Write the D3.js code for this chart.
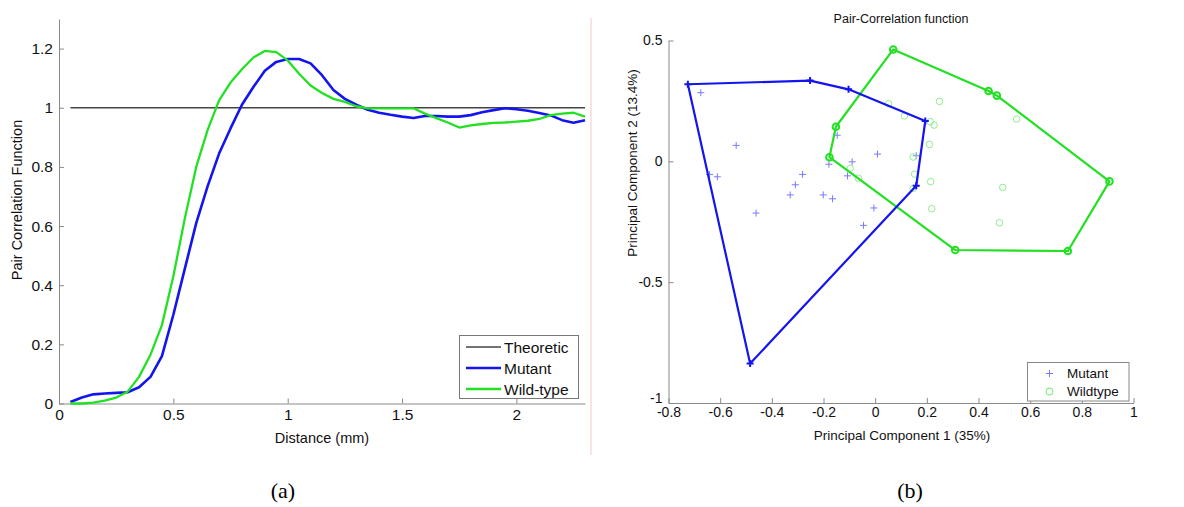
<!DOCTYPE html>
<html>
<head>
<meta charset="utf-8">
<script src="https://cdn.jsdelivr.net/npm/d3@7"></script>
<style>
  html, body { margin: 0; padding: 0; background: #fff; }
  svg { display: block; font-family: "Liberation Sans", Arial, sans-serif; }
</style>
</head>
<body>
<svg id="chart" width="1184" height="507"></svg>
<script>
// ---------- Panel (a) data ----------
const distance = [0.05,0.10,0.15,0.20,0.25,0.30,0.35,0.40,0.45,0.50,0.55,0.60,0.65,0.70,0.75,0.80,0.85,0.90,0.95,1.00,
  1.05,1.10,1.15,1.20,1.25,1.30,1.35,1.40,1.45,1.50,1.55,1.60,1.65,1.70,1.75,1.80,1.85,1.90,1.95,2.00,
  2.05,2.10,2.15,2.20,2.25,2.30];
const mutant = [0.005,0.020,0.031,0.034,0.036,0.038,0.055,0.090,0.160,0.300,0.455,0.610,0.735,0.845,0.930,1.010,1.070,1.125,1.155,1.165,
  1.165,1.150,1.110,1.060,1.030,1.010,0.993,0.983,0.976,0.970,0.965,0.972,0.972,0.970,0.970,0.975,0.985,0.992,0.998,0.995,
  0.990,0.982,0.974,0.958,0.949,0.958];
const wildType = [0.000,0.000,0.003,0.010,0.020,0.040,0.090,0.165,0.265,0.430,0.625,0.800,0.925,1.025,1.085,1.130,1.170,1.192,1.188,1.160,
  1.115,1.075,1.050,1.030,1.020,1.005,0.998,0.998,0.998,0.998,0.998,0.980,0.965,0.950,0.933,0.940,0.945,0.949,0.950,0.953,
  0.956,0.962,0.975,0.980,0.983,0.970];
const theoreticX = [0.05, 2.30];
const theoreticY = [1, 1];
const aXTicks = [0, 0.5, 1, 1.5, 2];
const aXTickLabels = ["0", "0.5", "1", "1.5", "2"];
const aYTicks = [0, 0.2, 0.4, 0.6, 0.8, 1, 1.2];
const aYTickLabels = ["0", "0.2", "0.4", "0.6", "0.8", "1", "1.2"];
const aLegend = ["Theoretic", "Mutant", "Wild-type"];

// ---------- Panel (b) data ----------
const mutantHull = [[-0.725,0.319],[-0.252,0.334],[-0.103,0.298],[0.194,0.167],[0.159,-0.101],[-0.484,-0.837]];
const mutantPoints = [[-0.675,0.284],[-0.538,0.066],[-0.641,-0.054],[-0.611,-0.064],[-0.281,-0.054],[-0.309,-0.097],
  [-0.329,-0.139],[-0.461,-0.214],[-0.201,-0.139],[-0.165,-0.155],[-0.147,0.108],[-0.179,-0.012],[-0.089,-0.002],
  [-0.107,-0.060],[0.009,0.030],[-0.005,-0.193],[-0.045,-0.265],[0.159,0.023]];
const wildHull = [[0.070,0.463],[0.439,0.291],[0.471,0.272],[0.907,-0.083],[0.746,-0.371],[0.310,-0.367],[-0.177,0.017],[-0.152,0.143]];
const wildPoints = [[0.052,0.238],[0.113,0.188],[0.249,0.248],[0.213,0.164],[0.228,0.150],[0.210,0.070],[0.147,0.018],
  [0.153,-0.053],[0.215,-0.084],[0.147,-0.112],[0.219,-0.196],[0.548,0.175],[0.494,-0.108],[0.481,-0.254],
  [-0.097,-0.029],[-0.065,-0.070]];
const bXTicks = [-0.8,-0.6,-0.4,-0.2,0,0.2,0.4,0.6,0.8,1];
const bXTickLabels = ["-0.8","-0.6","-0.4","-0.2","0","0.2","0.4","0.6","0.8","1"];
const bYTicks = [-1,-0.5,0,0.5];
const bYTickLabels = ["-1","-0.5","0","0.5"];
const bLegend = ["Mutant", "Wildtype"];

// ---------- Colours ----------
const BLUE = "#1414f0", GREEN = "#22e022", GRAY_AXIS = "#8a8a8a";
const BLUE_LIGHT = "#7a7aff", GREEN_LIGHT = "#90ee90";

const svg = d3.select("#chart");

function styleAxis(g, fontSize) {
  g.select(".domain").attr("stroke", GRAY_AXIS).attr("stroke-width", 1);
  g.selectAll(".tick line").attr("stroke", GRAY_AXIS);
  g.selectAll(".tick text").attr("fill", "#111").attr("font-size", fontSize)
    .attr("font-family", "'Liberation Sans', Arial, sans-serif");
}

// ================= Panel (a) =================
const ax = d3.scaleLinear().domain([0, 2.3]).range([59, 585]);
const ay = d3.scaleLinear().domain([0, 1.3]).range([403.5, 19]);

// faint pink border line
svg.append("line").attr("x1", 591).attr("x2", 591).attr("y1", 18).attr("y2", 455)
  .attr("stroke", "#f6c8c8").attr("stroke-width", 1);

svg.append("g").attr("transform", "translate(0,403.5)")
  .call(d3.axisBottom(ax).tickValues(aXTicks).tickFormat((d, i) => aXTickLabels[i]).tickSizeInner(-5).tickSizeOuter(0).tickPadding(5))
  .call(g => styleAxis(g, 15.5));
svg.append("g").attr("transform", "translate(59,0)")
  .call(d3.axisLeft(ay).tickValues(aYTicks).tickFormat((d, i) => aYTickLabels[i]).tickSizeInner(-5).tickSizeOuter(0).tickPadding(6))
  .call(g => styleAxis(g, 15.5));

const aLine = d3.line().x(d => ax(d[0])).y(d => ay(d[1]));
svg.append("path").datum(theoreticX.map((x, i) => [x, theoreticY[i]]))
  .attr("d", aLine).attr("fill", "none").attr("stroke", "#444").attr("stroke-width", 1.6);
svg.append("path").datum(distance.map((x, i) => [x, mutant[i]]))
  .attr("d", aLine).attr("fill", "none").attr("stroke", BLUE).attr("stroke-width", 2.6).attr("stroke-linejoin", "round");
svg.append("path").datum(distance.map((x, i) => [x, wildType[i]]))
  .attr("d", aLine).attr("fill", "none").attr("stroke", GREEN).attr("stroke-width", 2.3).attr("stroke-linejoin", "round");

svg.append("text").attr("x", 322).attr("y", 443).attr("text-anchor", "middle")
  .attr("font-size", 14.5).attr("fill", "#111").text("Distance (mm)");
svg.append("text").attr("transform", "translate(22,200) rotate(-90)").attr("text-anchor", "middle")
  .attr("font-size", 14.5).attr("fill", "#111").text("Pair Correlation Function");

// legend (a)
const aLeg = svg.append("g");
aLeg.append("rect").attr("x", 459.5).attr("y", 335.5).attr("width", 119).attr("height", 63)
  .attr("fill", "#fff").attr("stroke", "#777").attr("stroke-width", 1);
const aLegColors = ["#444", BLUE, GREEN];
const aLegWidths = [1.6, 2.6, 2.3];
aLegend.forEach((name, i) => {
  const yy = 347 + i * 21;
  aLeg.append("line").attr("x1", 466).attr("x2", 501).attr("y1", yy).attr("y2", yy)
    .attr("stroke", aLegColors[i]).attr("stroke-width", aLegWidths[i]);
  aLeg.append("text").attr("x", 504).attr("y", yy + 5.5).attr("font-size", 15.5).attr("fill", "#111").text(name);
});

// ================= Panel (b) =================
const bx = d3.scaleLinear().domain([-0.8, 1]).range([668.5, 1133.5]);
const by = d3.scaleLinear().domain([-1, 0.5]).range([403, 40.5]);

svg.append("g").attr("transform", "translate(0,403)")
  .call(d3.axisBottom(bx).tickValues(bXTicks).tickFormat((d, i) => bXTickLabels[i]).tickSizeInner(-5).tickSizeOuter(0).tickPadding(4))
  .call(g => styleAxis(g, 14));
svg.append("g").attr("transform", "translate(668.5,0)")
  .call(d3.axisLeft(by).tickValues(bYTicks).tickFormat((d, i) => bYTickLabels[i]).tickSizeInner(-5).tickSizeOuter(0).tickPadding(6))
  .call(g => styleAxis(g, 14))
  .call(g => g.selectAll(".tick text").filter((d, i) => i === 0).attr("dy", "-0.05em"));

svg.append("text").attr("x", 901).attr("y", 23).attr("text-anchor", "middle")
  .attr("font-size", 12.5).attr("fill", "#111").text("Pair-Correlation function");
svg.append("text").attr("x", 902).attr("y", 440).attr("text-anchor", "middle")
  .attr("font-size", 13.5).attr("fill", "#111").text("Principal Component 1 (35%)");
svg.append("text").attr("transform", "translate(637,163) rotate(-90)").attr("text-anchor", "middle")
  .attr("font-size", 13.5).attr("fill", "#111").text("Principal Component 2 (13.4%)");

// inner scatter points
function plus(g, x, y, s, color, w) {
  g.append("path").attr("d", `M${x - s},${y}H${x + s}M${x},${y - s}V${y + s}`)
    .attr("stroke", color).attr("stroke-width", w).attr("fill", "none");
}
const pts = svg.append("g");
mutantPoints.forEach(p => plus(pts, bx(p[0]), by(p[1]), 3.5, BLUE_LIGHT, 1));
wildPoints.forEach(p => pts.append("circle").attr("cx", bx(p[0])).attr("cy", by(p[1])).attr("r", 3.3)
  .attr("fill", "none").attr("stroke", GREEN_LIGHT).attr("stroke-width", 1));

// hulls
const hullLine = d3.line().x(d => bx(d[0])).y(d => by(d[1])).curve(d3.curveLinearClosed);
svg.append("path").datum(wildHull).attr("d", hullLine).attr("fill", "none")
  .attr("stroke", GREEN).attr("stroke-width", 2.2).attr("stroke-linejoin", "round");
svg.append("path").datum(mutantHull).attr("d", hullLine).attr("fill", "none")
  .attr("stroke", BLUE).attr("stroke-width", 2.2).attr("stroke-linejoin", "round");
wildHull.forEach(p => svg.append("circle").attr("cx", bx(p[0])).attr("cy", by(p[1])).attr("r", 3.3)
  .attr("fill", "none").attr("stroke", GREEN).attr("stroke-width", 2));
mutantHull.forEach(p => plus(svg, bx(p[0]), by(p[1]), 3.5, BLUE, 2));

// legend (b)
const bLeg = svg.append("g");
bLeg.append("rect").attr("x", 1027.5).attr("y", 362.5).attr("width", 101.5).attr("height", 38.5)
  .attr("fill", "#fff").attr("stroke", "#888").attr("stroke-width", 1);
plus(bLeg, 1049.5, 373.5, 3.5, BLUE_LIGHT, 1);
bLeg.append("circle").attr("cx", 1049.5).attr("cy", 391.5).attr("r", 3.3).attr("fill", "none")
  .attr("stroke", GREEN_LIGHT).attr("stroke-width", 1.2);
bLegend.forEach((name, i) => {
  bLeg.append("text").attr("x", 1067).attr("y", 378 + i * 18).attr("font-size", 13.5).attr("fill", "#111").text(name);
});

// sub-captions
svg.append("text").attr("x", 283).attr("y", 498).attr("text-anchor", "middle")
  .attr("font-family", "'Liberation Serif', 'Times New Roman', serif").attr("font-size", 22).text("(a)");
svg.append("text").attr("x", 910).attr("y", 498).attr("text-anchor", "middle")
  .attr("font-family", "'Liberation Serif', 'Times New Roman', serif").attr("font-size", 22).text("(b)");
</script>
</body>
</html>
